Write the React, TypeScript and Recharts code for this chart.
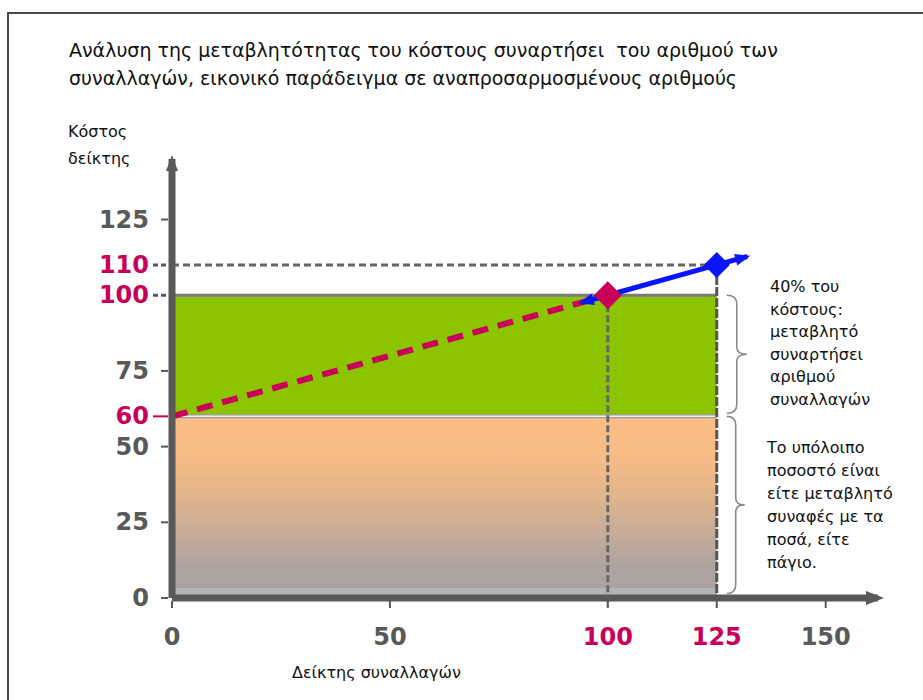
import React from 'react';
import {
  ComposedChart,
  Line,
  XAxis,
  YAxis,
  ReferenceArea,
  ReferenceLine,
  ReferenceDot,
} from 'recharts';

// values
const yTicks = [0, 25, 50, 60, 75, 100, 110, 125];
const xTicks = [0, 50, 100, 125, 150];
const highlightY = [60, 100, 110];
const highlightX = [100, 125];

const fixedX = [0, 100];
const fixedY = [60, 100];
const growthX = [94, 100, 125, 132];
const growthY = [97.6, 100, 110, 112.8];

const variableBand = [60, 100];
const restBand = [0, 60];
const bandEnd = 125;
const baseBand = 3.3;

const xMax = 162;
const yMax = 145;

const variableNote = ['40% του', 'κόστους:', 'μεταβλητό', 'συναρτήσει', 'αριθμού', 'συναλλαγών'];
const restNote = ['Το υπόλοιπο', 'ποσοστό είναι', 'είτε μεταβλητό', 'συναφές με τα', 'ποσά, είτε', 'πάγιο.'];

const fixedData = fixedX.map((x, i) => ({ x, y: fixedY[i] }));
const growthData = growthX.map((x, i) => ({ x, y: growthY[i] }));

const MAGENTA = '#c8005a';
const GREY = '#595959';
const BLUE = '#0a14ff';
const GREEN = '#8cc400';
const SANS = "'DejaVu Sans', Verdana, sans-serif";

const YTick = (props: any) => {
  const { x, y, payload } = props;
  const v = payload.value;
  const hot = highlightY.includes(v);
  let tick;
  if (v === 110 || v === 100) {
    tick = <line x1={x - 19} x2={x - 3} y1={y} y2={y} stroke={GREY} strokeWidth={3} strokeDasharray="5 3" />;
  } else if (v === 60) {
    tick = <line x1={x - 19} x2={x - 4} y1={y} y2={y} stroke={MAGENTA} strokeWidth={2} />;
  } else {
    tick = <line x1={x - 11} x2={x - 4} y1={y} y2={y} stroke={GREY} strokeWidth={2} />;
  }
  return (
    <g>
      {tick}
      <text
        x={x - 23}
        y={y}
        textAnchor="end"
        dominantBaseline="central"
        fontFamily={SANS}
        fontWeight="bold"
        fontSize={24}
        fill={hot ? MAGENTA : GREY}
      >
        {v}
      </text>
    </g>
  );
};

const XTick = (props: any) => {
  const { x, y, payload } = props;
  const v = payload.value;
  const hot = highlightX.includes(v);
  return (
    <g>
      <line x1={x} x2={x} y1={y + 3} y2={y + 10} stroke={GREY} strokeWidth={2} />
      <text
        x={x}
        y={y + 39}
        textAnchor="middle"
        dominantBaseline="central"
        fontFamily={SANS}
        fontWeight="bold"
        fontSize={24}
        fill={hot ? MAGENTA : GREY}
      >
        {v}
      </text>
    </g>
  );
};

const Brace = (props: any) => {
  const { x, y, width, height } = props;
  const xm = x + width * 0.5;
  const mid = y + height / 2;
  const d = `M ${x} ${y} Q ${xm} ${y} ${xm} ${y + 9} L ${xm} ${mid - 7} Q ${xm} ${mid} ${x + width} ${mid} Q ${xm} ${mid} ${xm} ${mid + 7} L ${xm} ${y + height - 9} Q ${xm} ${y + height} ${x} ${y + height}`;
  return <path d={d} fill="none" stroke="#8a8a8a" strokeWidth={1.6} />;
};

const UpArrow = (props: any) => {
  const { cx, cy } = props;
  return <path d={`M ${cx - 6} ${cy + 12} L ${cx} ${cy - 4} L ${cx + 6} ${cy + 12} Z`} fill={GREY} />;
};

const RightArrow = (props: any) => {
  const { cx, cy } = props;
  return <path d={`M ${cx - 12} ${cy - 7} L ${cx + 6} ${cy} L ${cx - 12} ${cy + 7} Z`} fill={GREY} />;
};

const Diamond = (color: string, r: number) => (props: any) => {
  const { cx, cy } = props;
  return <path d={`M ${cx} ${cy - r} L ${cx + r} ${cy} L ${cx} ${cy + r} L ${cx - r} ${cy} Z`} fill={color} />;
};

const LineHead = (dir: number) => (props: any) => {
  const { cx, cy } = props;
  const angle = -15.4 + (dir < 0 ? 180 : 0);
  return (
    <g transform={`translate(${cx} ${cy}) rotate(${angle})`}>
      <path d="M -12 -6 L 3 0 L -12 6 Z" fill={BLUE} />
    </g>
  );
};

export default function App() {
  return (
    <div style={{ position: 'absolute', left: 0, top: 0, width: 923, height: 700, background: '#fff', overflow: 'hidden' }}>
      <div style={{ position: 'absolute', left: 7, top: 12, width: 930, height: 700, borderTop: '2px solid #4a4a4a', borderLeft: '2px solid #4a4a4a' }} />
      <div style={{ position: 'absolute', left: 69, top: 36, fontFamily: SANS, fontSize: 19, lineHeight: '28px', color: '#111', whiteSpace: 'nowrap' }}>
        Ανάλυση της μεταβλητότητας του κόστους συναρτήσει&nbsp; του αριθμού των
        <br />
        συναλλαγών, εικονικό παράδειγμα σε αναπροσαρμοσμένους αριθμούς
      </div>
      <div style={{ position: 'absolute', left: 68, top: 118, fontFamily: SANS, fontSize: 16, lineHeight: '27px', color: '#111' }}>
        Κόστος
        <br />
        δείκτης
      </div>
      <div style={{ position: 'absolute', left: 292, top: 661, fontFamily: SANS, fontSize: 16, lineHeight: '24px', color: '#111', whiteSpace: 'nowrap' }}>
        Δείκτης συναλλαγών
      </div>
      <div style={{ position: 'absolute', left: 770, top: 276, fontFamily: SANS, fontSize: 16, lineHeight: '22.5px', color: '#111', whiteSpace: 'nowrap' }}>
        {variableNote.map((t) => (
          <div key={t}>{t}</div>
        ))}
      </div>
      <div style={{ position: 'absolute', left: 767, top: 436, fontFamily: SANS, fontSize: 16, lineHeight: '23px', color: '#111', whiteSpace: 'nowrap' }}>
        {restNote.map((t) => (
          <div key={t}>{t}</div>
        ))}
      </div>
      <div style={{ position: 'absolute', left: 0, top: 0 }}>
        <ComposedChart width={923} height={700} margin={{ top: 159, right: 45, left: 112, bottom: 52 }}>
          <defs>
            <linearGradient id="restFill" x1="0" y1="0" x2="0" y2="1">
              <stop offset="0%" stopColor="#fdbe85" />
              <stop offset="25%" stopColor="#f6bb86" />
              <stop offset="45%" stopColor="#e0b48d" />
              <stop offset="65%" stopColor="#c6ab98" />
              <stop offset="82%" stopColor="#aea49f" />
              <stop offset="100%" stopColor="#a9a2a4" />
            </linearGradient>
          </defs>
          <XAxis
            type="number"
            dataKey="x"
            domain={[0, xMax]}
            ticks={xTicks}
            interval={0}
            allowDataOverflow
            height={50}
            tickSize={0}
            tickMargin={0}
            tickLine={false}
            axisLine={{ stroke: GREY, strokeWidth: 7 }}
            tick={<XTick />}
          />
          <YAxis
            type="number"
            dataKey="y"
            domain={[0, yMax]}
            ticks={yTicks}
            interval={0}
            allowDataOverflow
            width={60}
            tickSize={0}
            tickMargin={0}
            tickLine={false}
            axisLine={{ stroke: GREY, strokeWidth: 7 }}
            tick={<YTick />}
          />
          <ReferenceArea x1={0} x2={bandEnd} y1={restBand[0]} y2={restBand[1]} fill="url(#restFill)" fillOpacity={1} stroke="none" />
          <ReferenceArea x1={0} x2={bandEnd} y1={0} y2={baseBand} fill="#b4b4b4" fillOpacity={1} stroke="none" />
          <ReferenceArea x1={0} x2={bandEnd} y1={variableBand[0]} y2={variableBand[1]} fill={GREEN} fillOpacity={1} stroke="none" />
          <ReferenceLine segment={[{ x: 0, y: variableBand[0] }, { x: bandEnd, y: variableBand[0] }]} stroke="#9c9c9c" strokeWidth={4} />
          <ReferenceLine segment={[{ x: 0, y: variableBand[0] }, { x: bandEnd, y: variableBand[0] }]} stroke="#f2f2f2" strokeWidth={1.5} />
          <ReferenceLine segment={[{ x: 0, y: variableBand[1] }, { x: bandEnd, y: variableBand[1] }]} stroke="#7b7b7b" strokeWidth={3} />
          <ReferenceLine segment={[{ x: 0, y: 110 }, { x: bandEnd, y: 110 }]} stroke="#666" strokeWidth={3} strokeDasharray="7 4" />
          <ReferenceLine segment={[{ x: 100, y: 100 }, { x: 100, y: -2.5 }]} stroke="#666" strokeWidth={3} strokeDasharray="7 3" ifOverflow="visible" />
          <ReferenceLine segment={[{ x: bandEnd, y: 110 }, { x: bandEnd, y: 0 }]} stroke="#555" strokeWidth={3} strokeDasharray="9 2" />
          <ReferenceArea x1={127.3} x2={131.9} y1={61} y2={100} shape={<Brace />} ifOverflow="visible" />
          <ReferenceArea x1={127.3} x2={131.4} y1={1.5} y2={60} shape={<Brace />} ifOverflow="visible" />
          <ReferenceDot x={0} y={yMax} shape={<UpArrow />} ifOverflow="visible" />
          <ReferenceDot x={xMax} y={0} shape={<RightArrow />} ifOverflow="visible" />
          <Line
            data={fixedData}
            dataKey="y"
            type="linear"
            stroke={MAGENTA}
            strokeWidth={6}
            strokeDasharray="16 10"
            dot={false}
            activeDot={false}
            isAnimationActive={false}
          />
          <Line
            data={growthData}
            dataKey="y"
            type="linear"
            stroke={BLUE}
            strokeWidth={5}
            dot={false}
            activeDot={false}
            isAnimationActive={false}
          />
          <ReferenceDot x={growthX[0]} y={growthY[0]} shape={LineHead(-1)} ifOverflow="visible" />
          <ReferenceDot x={growthX[growthX.length - 1]} y={growthY[growthY.length - 1]} shape={LineHead(1)} ifOverflow="visible" />
          <ReferenceDot x={125} y={110} shape={Diamond(BLUE, 13)} />
          <ReferenceDot x={100} y={100} shape={Diamond(MAGENTA, 14)} />
        </ComposedChart>
      </div>
    </div>
  );
}
